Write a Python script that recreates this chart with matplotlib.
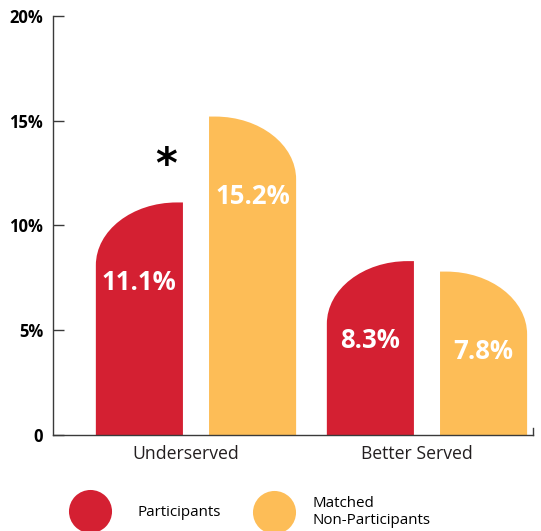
"""
Participants vs Matched Non-Participants — rounded-corner bar chart
"""
import matplotlib
matplotlib.use("Agg")
import matplotlib.pyplot as plt
from matplotlib.path import Path
from matplotlib.patches import PathPatch
from matplotlib.lines import Line2D

plt.rcParams["font.family"] = ["Open Sans", "DejaVu Sans"]

# ── data
categories   = ["Underserved", "Better Served"]
participants = [11.1, 8.3]
matched      = [15.2, 7.8]
series_names = ["Participants", "Matched\nNon-Participants"]
yticks       = [0, 5, 10, 15, 20]
ytick_labels = ["0", "5%", "10%", "15%", "20%"]

RED    = "#D42032"
ORANGE = "#FDBD57"
AXIS   = "#3A3A3A"

BAR_W   = 0.377
OFFSET  = 0.245
RX_FRAC = 0.93   # horizontal radius of the rounded corner (share of bar width)
RY      = 3.0    # vertical radius of the rounded corner (in %)
K       = 0.5523 # bezier constant for quarter ellipse


def rounded_bar(ax, xc, h, color, side):
    """bar with one rounded top corner; side='left' or 'right'"""
    x0, x1 = xc - BAR_W / 2, xc + BAR_W / 2
    rx = BAR_W * RX_FRAC
    ry = min(RY, h)
    if side == "left":
        verts = [(x1, 0), (x0, 0), (x0, h - ry),
                 (x0, h - ry + K * ry), (x0 + rx - K * rx, h), (x0 + rx, h),
                 (x1, h), (x1, 0)]
    else:
        verts = [(x0, 0), (x0, h), (x1 - rx, h),
                 (x1 - rx + K * rx, h), (x1, h - ry + K * ry), (x1, h - ry),
                 (x1, 0), (x0, 0)]
    codes = [Path.MOVETO, Path.LINETO, Path.LINETO,
             Path.CURVE4, Path.CURVE4, Path.CURVE4,
             Path.LINETO, Path.CLOSEPOLY]
    ax.add_patch(PathPatch(Path(verts, codes), facecolor=color,
                           edgecolor="none", zorder=2))


fig = plt.figure(figsize=(5.41, 5.31), dpi=100)
ax = fig.add_axes([53 / 541, 96 / 531, 480 / 541, 419 / 531])

for i, (p, m) in enumerate(zip(participants, matched)):
    rounded_bar(ax, i - OFFSET, p, RED, "left")
    rounded_bar(ax, i + OFFSET, m, ORANGE, "right")
    for xc, v in [(i - OFFSET, p), (i + OFFSET, m)]:
        ax.text(xc, v - 3.8, f"{v:.1f}%", ha="center", va="center",
                color="white", fontsize=18.5, fontweight="bold", zorder=3)

# significance marker
ax.text(0 - 0.13, participants[0] + 1.75, "*", ha="center", va="center",
        fontsize=30, fontweight="bold", color="black",
        family=["DejaVu Sans"])

ax.set_xlim(-0.619, 1.459)
ax.set_ylim(0, 20)

ax.set_yticks(yticks)
ax.set_yticklabels(ytick_labels, fontsize=12, fontweight="bold")
ax.tick_params(axis="y", direction="in", length=8, width=1, color=AXIS,
               pad=7)

ax.set_xticks([i - 0.045 for i in range(len(categories))])
ax.set_xticklabels(categories, fontsize=12.7, color="#231F20")
ax.tick_params(axis="x", length=0, pad=7)

ax.spines["top"].set_visible(False)
ax.spines["right"].set_bounds(0, 0.35)
for s in ["left", "bottom", "right"]:
    ax.spines[s].set_color(AXIS)
    ax.spines[s].set_linewidth(1)

# legend — one per entry so each sits where it does in the original
leg_kw = dict(loc="center left", frameon=False, fontsize=10.9,
              handlelength=2.8, borderpad=0, borderaxespad=0)
for color, name, anchor, pad in [(RED, series_names[0], (0.128, 0.034), 1.74),
                                 (ORANGE, series_names[1], (0.468, 0.036), 1.15)]:
    h = Line2D([], [], marker="o", ls="", ms=31, color=color, mec="none")
    fig.legend([h], [name], bbox_to_anchor=anchor, handletextpad=pad, **leg_kw)

plt.savefig("out.png", dpi=100)
